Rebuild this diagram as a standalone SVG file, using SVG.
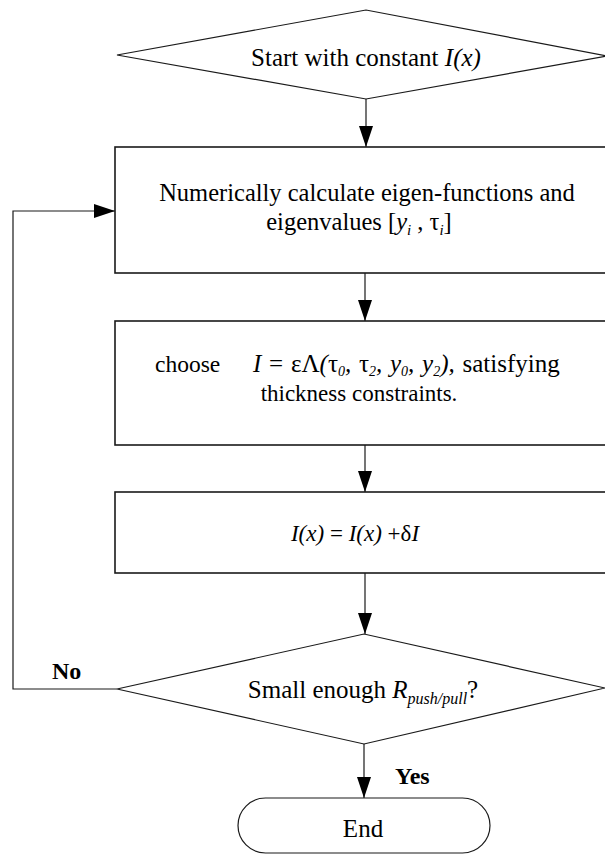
<svg xmlns="http://www.w3.org/2000/svg" width="605" height="861" viewBox="0 0 605 861">
<style>
.shape{fill:#fff;stroke:#1a1a1a;stroke-width:1.2}
.box{fill:#fff;stroke:#1a1a1a;stroke-width:1.6}
.conn{fill:none;stroke:#1a1a1a;stroke-width:1.2}
.t{font-family:"Liberation Serif","Times New Roman",serif;fill:#000}
.lbl{font-family:"Liberation Serif","Times New Roman",serif;font-weight:bold;fill:#000;font-size:24px}
.i{font-style:italic}
</style>
<defs>
<marker id="ah" markerUnits="userSpaceOnUse" markerWidth="22" markerHeight="16" refX="21" refY="7" orient="auto">
<path d="M0,0 L21,7 L0,14 Z" fill="#000"/>
</marker>
</defs>
<rect width="605" height="861" fill="#fff"/>
<g id="connectors">
<line class="conn" x1="366" y1="99" x2="366" y2="147" marker-end="url(#ah)"/>
<line class="conn" x1="365" y1="273" x2="365" y2="321" marker-end="url(#ah)"/>
<line class="conn" x1="365" y1="445" x2="365" y2="492" marker-end="url(#ah)"/>
<line class="conn" x1="365" y1="573" x2="365" y2="634" marker-end="url(#ah)"/>
<line class="conn" x1="364" y1="744" x2="364" y2="798" marker-end="url(#ah)"/>
<polyline class="conn" points="117,689 13,689 13,211 115,211" marker-end="url(#ah)"/>
<text class="lbl" x="52" y="679">No</text>
<text class="lbl" x="395" y="784">Yes</text>
</g>
<g id="start">
<polygon class="shape" points="117,55 366,10 607,56 366,99"/>
<text class="t" x="366" y="66" font-size="25" text-anchor="middle">Start with constant <tspan class="i">I(x)</tspan></text>
</g>
<g id="calc">
<rect class="box" x="115" y="147" width="500" height="126"/>
<text class="t" x="367" y="201" font-size="24.5" text-anchor="middle">Numerically calculate eigen-functions and</text>
<text class="t" x="359" y="230" font-size="24.5" text-anchor="middle">eigenvalues [<tspan class="i">y</tspan><tspan class="i" font-size="15" dy="5">i</tspan><tspan dy="-5"> , τ</tspan><tspan class="i" font-size="15" dy="5">i</tspan><tspan dy="-5">]</tspan></text>
</g>
<g id="choose">
<rect class="box" x="115" y="321" width="500" height="124"/>
<text class="t" x="155" y="372" font-size="23.5">choose</text>
<text class="t" x="253" y="372" font-size="25" word-spacing="1.5"><tspan class="i">I</tspan> = εΛ<tspan class="i">(</tspan>τ<tspan class="i" font-size="14" dy="4">0</tspan><tspan class="i" dy="-4">,</tspan> τ<tspan class="i" font-size="14" dy="4">2</tspan><tspan class="i" dy="-4">,</tspan> <tspan class="i">y</tspan><tspan class="i" font-size="14" dy="4">0</tspan><tspan class="i" dy="-4">,</tspan> <tspan class="i">y</tspan><tspan class="i" font-size="14" dy="4">2</tspan><tspan class="i" dy="-4">),</tspan> satisfying</text>
<text class="t" x="359" y="401" font-size="23" text-anchor="middle">thickness constraints.</text>
</g>
<g id="update">
<rect class="box" x="115" y="492" width="500" height="81"/>
<text class="t" x="355" y="541" font-size="23" text-anchor="middle"><tspan class="i">I(x)</tspan> = <tspan class="i">I(x)</tspan> +δ<tspan class="i">I</tspan></text>
</g>
<g id="check">
<polygon class="shape" points="117,689 364,634 605,688 364,744"/>
<text class="t" x="363" y="698" font-size="25" text-anchor="middle">Small enough <tspan class="i">R</tspan><tspan class="i" font-size="16" dy="6">push/pull</tspan><tspan dy="-6">?</tspan></text>
</g>
<g id="end">
<rect class="shape" x="238" y="798" width="252" height="55" rx="27.5"/>
<text class="t" x="363" y="837" font-size="25" text-anchor="middle">End</text>
</g>
</svg>
